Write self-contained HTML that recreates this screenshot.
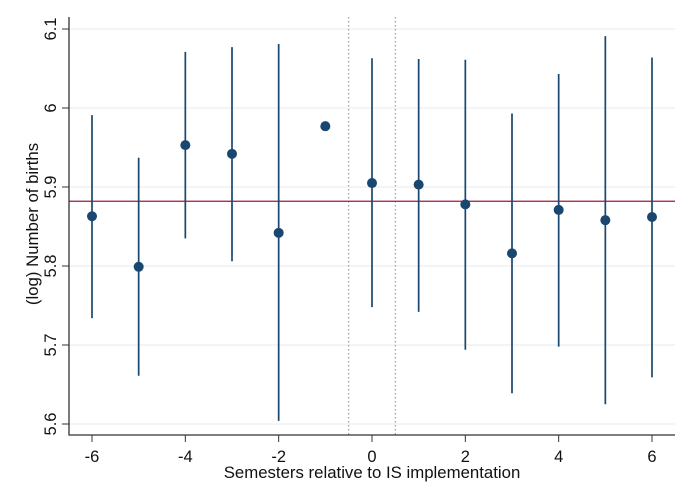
<!DOCTYPE html>
<html><head><meta charset="utf-8"><style>body{margin:0;background:#fff}svg{display:block;font-family:"Liberation Sans",Arial,sans-serif}</style></head>
<body>
<svg id="chart" width="693" height="504" viewBox="0 0 693 504"></svg>
<script>
const periods=[-6,-5,-4,-3,-2,-1,0,1,2,3,4,5,6];
const estimates=[5.863,5.799,5.953,5.942,5.842,5.977,5.905,5.903,5.878,5.816,5.871,5.858,5.862];
const ciLow=[5.734,5.661,5.835,5.806,5.604,null,5.748,5.742,5.694,5.639,5.698,5.625,5.659];
const ciHigh=[5.991,5.937,6.071,6.077,6.081,null,6.063,6.062,6.061,5.993,6.043,6.091,6.064];
const yTicks=[5.6,5.7,5.8,5.9,6,6.1];
const xTicks=[-6,-4,-2,0,2,4,6];
const refLine=5.882;
const ns="http://www.w3.org/2000/svg";
const svg=document.getElementById('chart');
const L=69,R=675,T=17,B=435;
const x=v=>92+(v+6)*(560/12);
const y=v=>424-(v-5.6)*790;
function el(t,a){const e=document.createElementNS(ns,t);for(const k in a)e.setAttribute(k,a[k]);svg.appendChild(e);return e;}
yTicks.forEach(v=>{
 const g=el('line',{x1:L,x2:R,y1:y(v),y2:y(v),stroke:'#eef2f4','stroke-width':1.5});
 
 
 const tk=el('line',{x1:62,x2:L,y1:y(v),y2:y(v),stroke:'#333'});
 
 
 const t=el('text',{x:0,y:0,'font-size':16.5,'text-anchor':'middle',fill:'#111',transform:`translate(56,${y(v)}) rotate(-90)`});
 t.textContent=String(v);
 
 
});
[-0.5,0.5].forEach(v=>{
 const d=el('line',{x1:x(v),x2:x(v),y1:T,y2:B,stroke:'#888','stroke-dasharray':'1.5,2.5'});
 
 
});
const rl=el('line',{x1:L,x2:R,y1:y(refLine),y2:y(refLine),stroke:'#a3173a','stroke-width':1.3});


periods.forEach((p,i)=>{
 if(ciLow[i]!==null){
  const c=el('line',{x1:x(p),x2:x(p),y1:y(ciLow[i]),y2:y(ciHigh[i]),stroke:'#1a476f','stroke-width':1.7});
  
  
 }
 const m=el('circle',{cx:x(p),cy:y(estimates[i]),r:5,fill:'#1a476f'});
 
 
});
const ax=el('path',{d:`M${L},${T}V${B}H${R}`,fill:'none',stroke:'#333','stroke-width':1.3});


xTicks.forEach(v=>{
 const tk=el('line',{x1:x(v),x2:x(v),y1:B,y2:442,stroke:'#333'});
 
 
 const t=el('text',{x:x(v),y:462,'font-size':16.5,'text-anchor':'middle',fill:'#111'});
 t.textContent=String(v);
 
 
});
const xt=el('text',{x:372,y:478,'font-size':16.8,'text-anchor':'middle',fill:'#111'});
xt.textContent='Semesters relative to IS implementation';


const yt=el('text',{x:0,y:0,'font-size':16.8,'text-anchor':'middle',fill:'#111',transform:'translate(38,224) rotate(-90)'});
yt.textContent='(log) Number of births';


</script>
</body></html>
